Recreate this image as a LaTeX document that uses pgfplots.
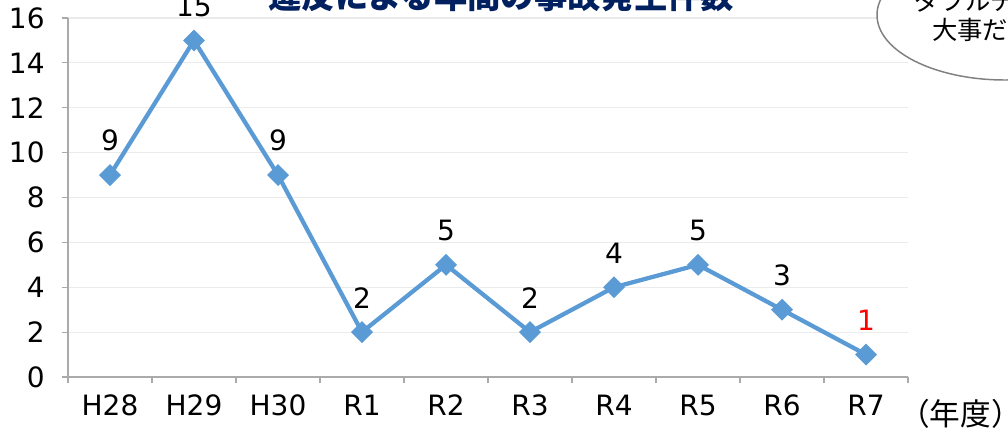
\documentclass[border=0pt]{standalone}
\usepackage{pgfplots}
\pgfplotsset{compat=1.18}
\usepackage{fontspec}
\setmainfont{DejaVu Sans}
\newfontfamily\jp{Noto Sans CJK JP}
\definecolor{lineblue}{RGB}{91,155,213}
\definecolor{gridc}{RGB}{235,235,235}
\definecolor{axisc}{RGB}{170,170,170}
\definecolor{navy}{RGB}{0,32,96}
\begin{document}
\begin{tikzpicture}
\useasboundingbox (0,0) rectangle (756pt,324.75pt);
\clip (0,0) rectangle (756pt,324.75pt);
\fill[white] (0,0) rectangle (756pt,324.75pt);
\begin{axis}[
  at={(51pt,42pt)}, anchor=south west,
  scale only axis, width=630pt, height=269.25pt,
  xmin=-0.5, xmax=9.5, ymin=0, ymax=16,
  axis x line*=bottom, axis y line*=left,
  axis line style={axisc, line width=0.9pt},
  tick align=outside,
  ytick={0,2,...,16},
  ytick pos=left,
  major tick length=4.5pt,
  tick style={axisc, line width=0.9pt},
  ymajorgrids, grid style={gridc, line width=0.8pt},
  xtick={-0.5,0.5,...,9.5},
  xticklabels={},
  extra x ticks={0,1,2,3,4,5,6,7,8,9},
  extra x tick labels={H28,H29,H30,R1,R2,R3,R4,R5,R6,R7},
  extra x tick style={major tick length=0pt, grid=none},
  /pgf/number format/assume math mode=true,
  ticklabel style={font=\fontsize{21}{24}\selectfont, black},
  yticklabel style={xshift=-9.5pt},
  xticklabel style={yshift=-10pt},
  clip=false,
]
\addplot[lineblue, line width=3.2pt, mark=square*, mark size=5.3pt,
  mark options={rotate=45, fill=lineblue, draw=lineblue, line width=1pt, solid},
  nodes near coords, point meta=explicit symbolic,
  every node near coord/.append style={font=\fontsize{21}{24}\selectfont, black, yshift=14pt}]
  coordinates {(0,9)[9] (1,15)[15] (2,9)[9] (3,2)[2] (4,5)[5] (5,2)[2] (6,4)[4] (7,5)[5] (8,3)[3] (9,1)[\textcolor{red}{1}]};
\end{axis}
\node[anchor=base, font=\jp\fontsize{25}{28}\selectfont\bfseries, text=navy] at (376pt,318pt) {違反による年間の事故発生件数};
\draw[gray, line width=1.1pt, fill=white] (753.75pt,313.5pt) ellipse [x radius=96pt, y radius=48.75pt];
\node[anchor=base west, font=\jp\fontsize{19}{22}\selectfont, inner sep=0pt] at (686pt,316.5pt) {ダブルチェックが};
\node[anchor=base west, font=\jp\fontsize{19}{22}\selectfont, inner sep=0pt] at (699pt,294.75pt) {大事だね};
\node[anchor=base west, font=\jp\fontsize{23}{26}\selectfont, inner sep=0pt] at (674.25pt,6pt) {（年度）};
\end{tikzpicture}
\end{document}
